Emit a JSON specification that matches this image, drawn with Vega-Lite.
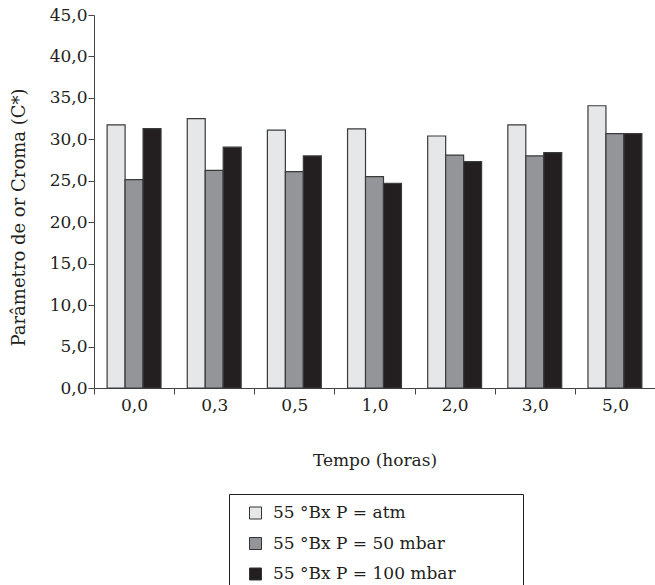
{
  "$schema": "https://vega.github.io/schema/vega-lite/v6.json",
  "autosize": {"type": "none"},
  "width": 561,
  "height": 373,
  "padding": {"left": 94, "top": 15, "right": 0, "bottom": 197},
  "background": "white",
  "config": {
    "font": "DejaVu Serif",
    "view": {"stroke": null},
    "axis": {"labelFont": "DejaVu Serif", "titleFont": "DejaVu Serif", "labelColor": "#231f20", "titleColor": "#231f20", "domainColor": "#444", "tickColor": "#444", "grid": false, "labelFontSize": 17, "titleFontSize": 17, "titleFontWeight": "normal"},
    "legend": {"labelFont": "DejaVu Serif", "labelFontSize": 17, "labelColor": "#231f20", "labelLimit": 0}
  },
  "data": {
    "values": [
      {"tempo": "0,0", "trat": "55 °Bx P = atm", "croma": 31.75},
      {"tempo": "0,0", "trat": "55 °Bx P = 50 mbar", "croma": 25.15},
      {"tempo": "0,0", "trat": "55 °Bx P = 100 mbar", "croma": 31.3},
      {"tempo": "0,3", "trat": "55 °Bx P = atm", "croma": 32.5},
      {"tempo": "0,3", "trat": "55 °Bx P = 50 mbar", "croma": 26.25},
      {"tempo": "0,3", "trat": "55 °Bx P = 100 mbar", "croma": 29.05},
      {"tempo": "0,5", "trat": "55 °Bx P = atm", "croma": 31.1},
      {"tempo": "0,5", "trat": "55 °Bx P = 50 mbar", "croma": 26.1},
      {"tempo": "0,5", "trat": "55 °Bx P = 100 mbar", "croma": 28.0},
      {"tempo": "1,0", "trat": "55 °Bx P = atm", "croma": 31.25},
      {"tempo": "1,0", "trat": "55 °Bx P = 50 mbar", "croma": 25.5},
      {"tempo": "1,0", "trat": "55 °Bx P = 100 mbar", "croma": 24.7},
      {"tempo": "2,0", "trat": "55 °Bx P = atm", "croma": 30.4},
      {"tempo": "2,0", "trat": "55 °Bx P = 50 mbar", "croma": 28.1},
      {"tempo": "2,0", "trat": "55 °Bx P = 100 mbar", "croma": 27.3},
      {"tempo": "3,0", "trat": "55 °Bx P = atm", "croma": 31.75},
      {"tempo": "3,0", "trat": "55 °Bx P = 50 mbar", "croma": 28.0},
      {"tempo": "3,0", "trat": "55 °Bx P = 100 mbar", "croma": 28.4},
      {"tempo": "5,0", "trat": "55 °Bx P = atm", "croma": 34.05},
      {"tempo": "5,0", "trat": "55 °Bx P = 50 mbar", "croma": 30.7},
      {"tempo": "5,0", "trat": "55 °Bx P = 100 mbar", "croma": 30.7}
    ]
  },
  "mark": {"type": "bar", "stroke": "#3a3a3a", "strokeWidth": 1.2},
  "encoding": {
    "x": {
      "field": "tempo", "type": "nominal", "sort": null,
      "scale": {"paddingInner": 0, "paddingOuter": 0},
      "axis": {"title": "Tempo (horas)", "labelAngle": 0, "tickBand": "extent", "tickSize": 6, "labelPadding": 3, "titleY": 72, "titleBaseline": "middle"}
    },
    "xOffset": {
      "field": "trat", "type": "nominal", "sort": null,
      "scale": {"paddingInner": 0, "paddingOuter": 0.73}
    },
    "y": {
      "field": "croma", "type": "quantitative",
      "scale": {"domain": [0, 45], "nice": false},
      "axis": {"title": "Parâmetro de or Croma (C*)", "titleFontSize": 18, "values": [0, 5, 10, 15, 20, 25, 30, 35, 40, 45], "labelExpr": "replace(format(datum.value, '.1f'), '.', ',')", "tickSize": 6, "labelPadding": 1, "titleX": -75, "titleY": 202, "titleBaseline": "middle", "titleAngle": -90}
    },
    "fill": {
      "field": "trat", "type": "nominal", "sort": null,
      "scale": {"domain": ["55 °Bx P = atm", "55 °Bx P = 50 mbar", "55 °Bx P = 100 mbar"], "range": ["#e6e7e8", "#939598", "#231f20"]},
      "legend": {
        "title": null, "orient": "none", "legendX": 135, "legendY": 479,
        "direction": "vertical",
        "strokeColor": "#231f20", "padding": 10.5,
        "symbolType": "square", "symbolSize": 144, "symbolStrokeColor": "#333", "symbolStrokeWidth": 1,
        "symbolOffset": 7.5, "labelOffset": 9, "rowPadding": 12.5,
        "labelExpr": "datum.label + '\u2003\u2003\u2003\u00a0\u200b'"
      }
    }
  }
}
